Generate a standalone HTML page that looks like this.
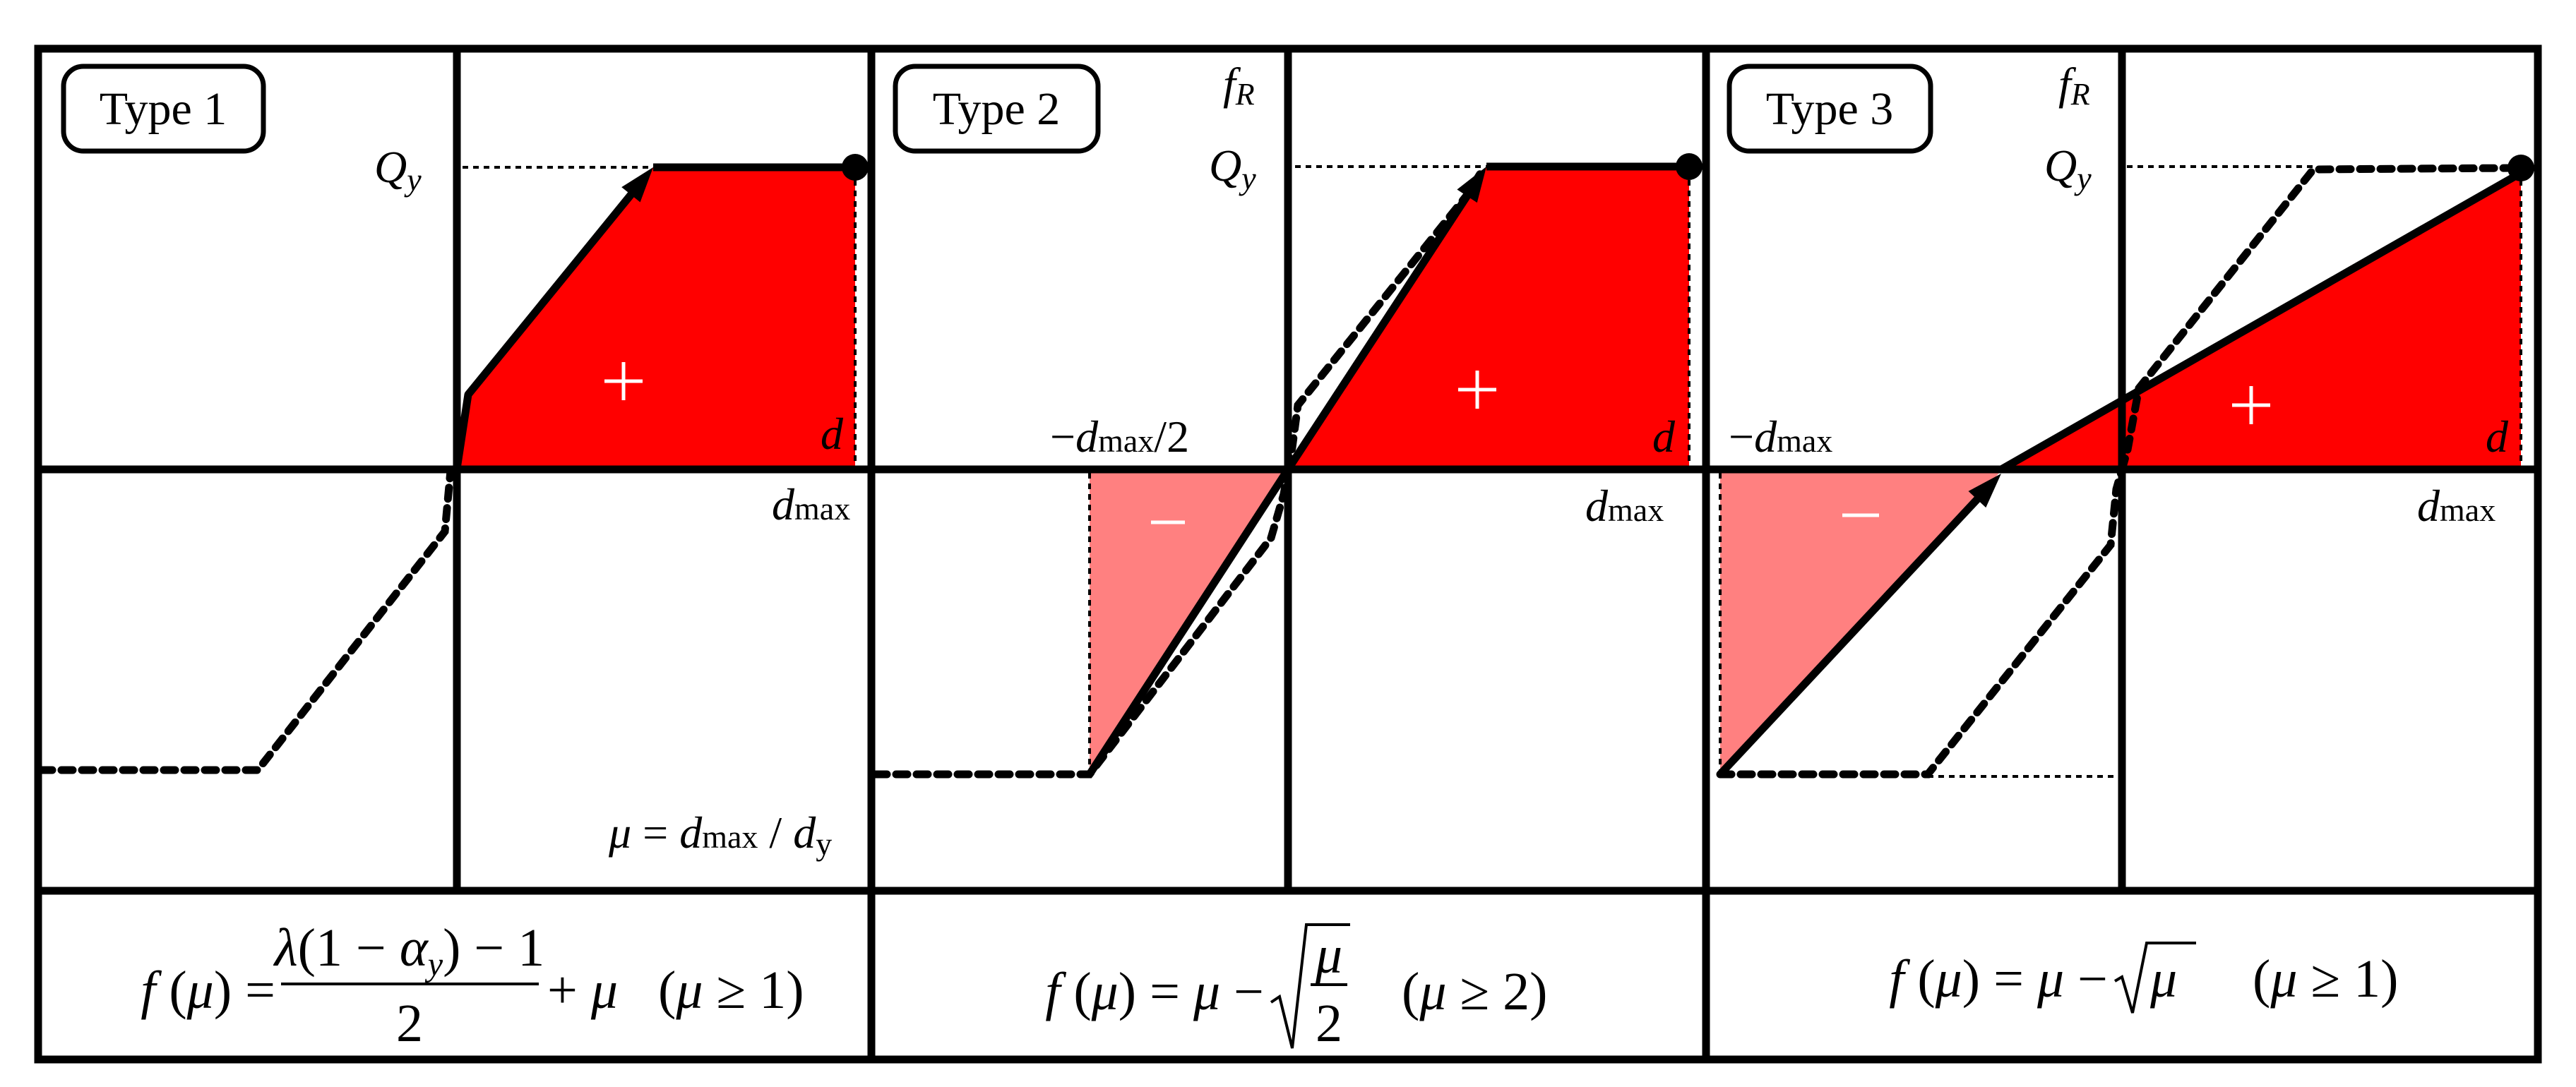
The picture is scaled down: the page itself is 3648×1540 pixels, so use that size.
<!DOCTYPE html>
<html><head><meta charset="utf-8"><style>
html,body{margin:0;padding:0;background:#fff;}
svg{display:block;}
svg text{font-family:"Liberation Serif","DejaVu Serif",serif !important;fill:#000;}
.it{font-style:italic;}
</style></head><body>
<svg width="3648" height="1540" viewBox="0 0 3648 1540" xmlns="http://www.w3.org/2000/svg" font-family="Liberation Serif, serif">
<!-- fills -->
<polygon points="647,664 663,559 925,237 1211,237 1211,664" fill="#ff0000"/>
<polygon points="1824,665 2105,236 2392,236 2392,665" fill="#ff0000"/>
<polygon points="1543,667 1824,665 1543,1097" fill="#ff8080"/>
<polygon points="2834,665 3570,245 3570,665" fill="#ff0000"/>
<polygon points="2436,667 2834,667 2436,1097" fill="#ff8080"/>

<!-- thin dotted lines -->
<g stroke="#000" stroke-width="4" stroke-dasharray="8,7" fill="none">
<line x1="655" y1="237" x2="925" y2="237"/>
<line x1="1211" y1="240" x2="1211" y2="664"/>
<line x1="1834" y1="236" x2="2105" y2="236"/>
<line x1="2392" y1="240" x2="2392" y2="665"/>
<line x1="1543" y1="670" x2="1543" y2="1097"/>
<line x1="3012" y1="236" x2="3276" y2="236"/>
<line x1="3570" y1="240" x2="3570" y2="665"/>
<line x1="2436" y1="670" x2="2436" y2="1097"/>
<line x1="2730" y1="1100" x2="3003" y2="1100"/>
</g>

<!-- thick dashed curves -->
<g stroke="#000" stroke-width="11" stroke-dasharray="16,13" fill="none" stroke-linecap="round">
<polyline points="58,1091 365,1091 630,753 638,667"/>
<polyline points="1240,1097 1543,1097 1800,762 1818,700 1824,665"/>
<polyline points="1824,665 1830,634 1838,574 2077,277 2100,240"/>
<polyline points="2436,1097 2730,1097 2989,772 2997,693 3005,665"/>
<polyline points="3005,665 3013,637 3029,550 3276,240 3560,238"/>
</g>

<!-- solid curves -->
<g stroke="#000" stroke-width="11" fill="none" stroke-linejoin="round">
<polyline points="647,664 663,559 895,274"/>
<line x1="925" y1="237" x2="1211" y2="237"/>
<line x1="1824" y1="665" x2="2080" y2="274"/>
<line x1="2105" y1="236" x2="2392" y2="236"/>
<line x1="1543" y1="1097" x2="1824" y2="665"/>
<line x1="2436" y1="1097" x2="2805" y2="702"/>
<line x1="2834" y1="665" x2="3570" y2="245"/>
</g>
<!-- arrowheads -->
<polygon points="925,237 906.6,286.5 880.2,265.1" fill="#000"/>
<polygon points="2105,236 2091.8,287.1 2063.4,268.5" fill="#000"/>
<polygon points="2834,671 2812.3,719.1 2787.5,695.9" fill="#000"/>
<!-- dots -->
<circle cx="1211" cy="237" r="19" fill="#000"/>
<circle cx="2392" cy="236" r="19" fill="#000"/>
<circle cx="3570" cy="238" r="19" fill="#000"/>

<!-- grid -->
<g stroke="#000" stroke-width="11" fill="none">
<rect x="54" y="69" width="3540" height="1432"/>
<line x1="54" y1="665" x2="3594" y2="665"/>
<line x1="54" y1="1262" x2="3594" y2="1262"/>
<line x1="647" y1="69" x2="647" y2="1262"/>
<line x1="1234" y1="69" x2="1234" y2="1501"/>
<line x1="1824" y1="69" x2="1824" y2="1262"/>
<line x1="2416" y1="69" x2="2416" y2="1501"/>
<line x1="3005" y1="69" x2="3005" y2="1262"/>
</g>

<!-- type boxes -->
<g stroke="#000" stroke-width="7" fill="#fff">
<rect x="90" y="94" width="283" height="120" rx="28"/>
<rect x="1268" y="94" width="287" height="120" rx="28"/>
<rect x="2449" y="94" width="285" height="120" rx="28"/>
</g>
<g font-size="66" text-anchor="middle">
<text x="231" y="176">Type 1</text>
<text x="1411" y="176">Type 2</text>
<text x="2591" y="176">Type 3</text>
</g>

<!-- plus / minus -->
<g stroke="#fff" stroke-width="5">
<line x1="856" y1="540" x2="910" y2="540"/><line x1="883" y1="513" x2="883" y2="567"/>
<line x1="2065" y1="552" x2="2119" y2="552"/><line x1="2092" y1="525" x2="2092" y2="579"/>
<line x1="3161" y1="574" x2="3215" y2="574"/><line x1="3188" y1="547" x2="3188" y2="601"/>
<line x1="1630" y1="740" x2="1678" y2="740"/>
<line x1="2609" y1="730" x2="2661" y2="730"/>
</g>

<!-- labels -->
<g font-size="64">
<text class="it" x="530" y="258">Q<tspan font-size="46" dy="12">y</tspan></text>
<text class="it" x="1162" y="636">d</text>
<text x="1093" y="736"><tspan class="it">d</tspan><tspan font-size="46">max</tspan></text>
<text x="862" y="1201"><tspan class="it">μ</tspan> = <tspan class="it">d</tspan><tspan font-size="46">max</tspan> / <tspan class="it">d</tspan><tspan font-size="46" dy="10">y</tspan></text>

<text class="it" x="1732" y="140">f<tspan font-size="44" dy="8">R</tspan></text>
<text class="it" x="1712" y="256">Q<tspan font-size="46" dy="12">y</tspan></text>
<text x="1487" y="640">−<tspan class="it">d</tspan><tspan font-size="46">max</tspan>/2</text>
<text class="it" x="2340" y="640">d</text>
<text x="2245" y="738"><tspan class="it">d</tspan><tspan font-size="46">max</tspan></text>

<text class="it" x="2915" y="140">f<tspan font-size="44" dy="8">R</tspan></text>
<text class="it" x="2895" y="256">Q<tspan font-size="46" dy="12">y</tspan></text>
<text x="2448" y="640">−<tspan class="it">d</tspan><tspan font-size="46">max</tspan></text>
<text class="it" x="3520" y="640">d</text>
<text x="3423" y="738"><tspan class="it">d</tspan><tspan font-size="46">max</tspan></text>
</g>

<!-- formulas -->
<g font-size="76">
<!-- Type 1 -->
<text x="390" y="1428" text-anchor="end"><tspan class="it">f</tspan> (<tspan class="it">μ</tspan>) =</text>
<text x="580" y="1368" text-anchor="middle"><tspan class="it">λ</tspan>(1 − <tspan class="it">α</tspan><tspan class="it" font-size="48" dy="14">y</tspan><tspan dy="-14">) − 1</tspan></text>
<line x1="398" y1="1394" x2="763" y2="1394" stroke="#000" stroke-width="4"/>
<text x="580" y="1475" text-anchor="middle">2</text>
<text x="775" y="1428" xml:space="preserve">+ <tspan class="it">μ</tspan>   (<tspan class="it">μ</tspan> ≥ 1)</text>
<!-- Type 2 -->
<text x="1790" y="1430" text-anchor="end"><tspan class="it">f</tspan> (<tspan class="it">μ</tspan>) = <tspan class="it">μ</tspan> −</text>
<polyline points="1800,1420 1812,1412 1830,1485 1850,1310 1912,1310" fill="none" stroke="#000" stroke-width="4"/>
<text class="it" x="1882" y="1378" text-anchor="middle">μ</text>
<line x1="1856" y1="1395" x2="1908" y2="1395" stroke="#000" stroke-width="4"/>
<text x="1882" y="1475" text-anchor="middle">2</text>
<text x="1985" y="1430">(<tspan class="it">μ</tspan> ≥ 2)</text>
<!-- Type 3 -->
<text x="2985" y="1412" text-anchor="end"><tspan class="it">f</tspan> (<tspan class="it">μ</tspan>) = <tspan class="it">μ</tspan> −</text>
<polyline points="2995,1390 3005,1384 3020,1435 3040,1336 3110,1336" fill="none" stroke="#000" stroke-width="4"/>
<text class="it" x="3045" y="1412">μ</text>
<text x="3190" y="1412">(<tspan class="it">μ</tspan> ≥ 1)</text>
</g>
</svg>
</body></html>
